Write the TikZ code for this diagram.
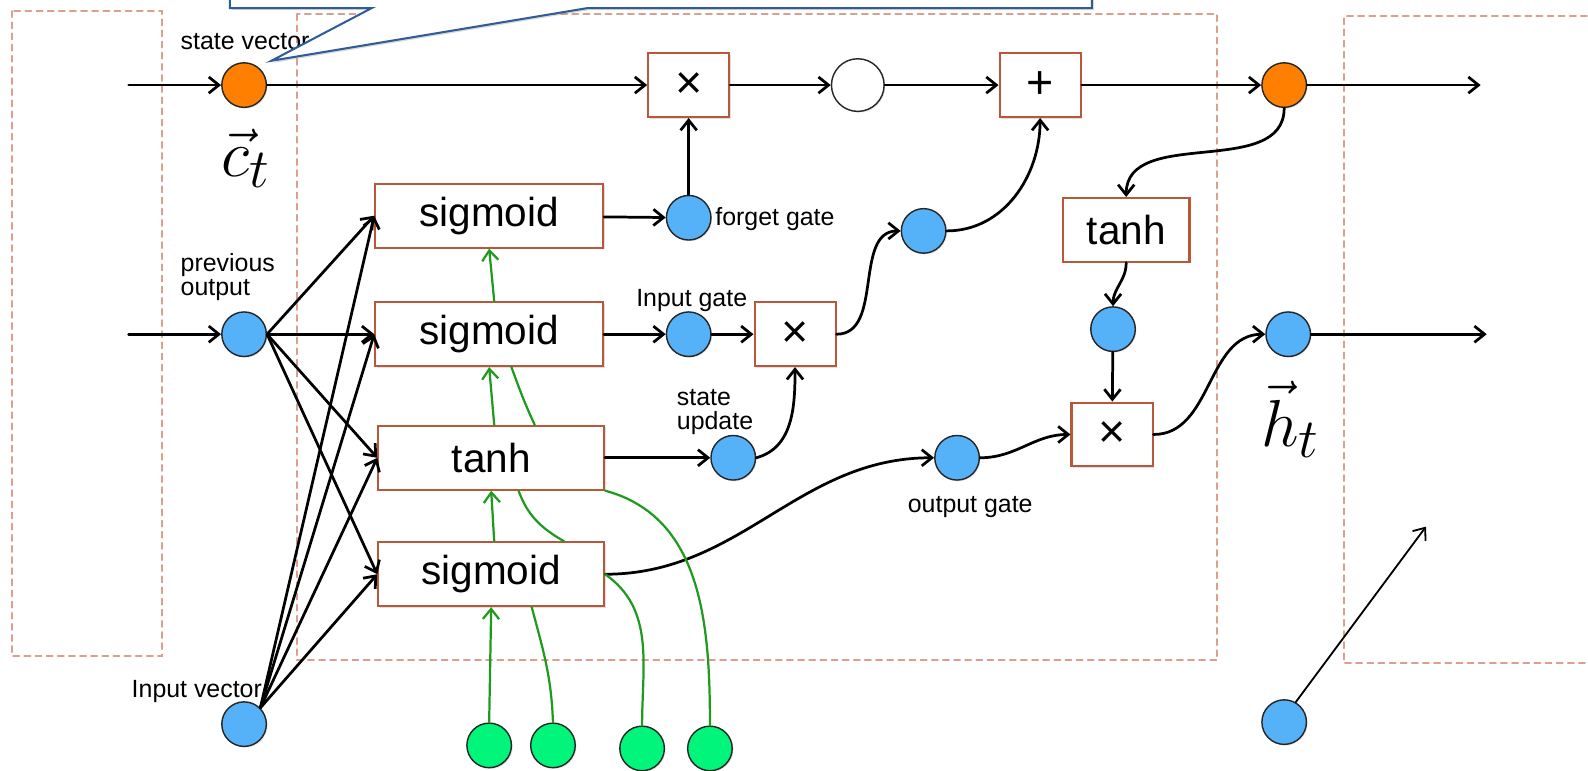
\documentclass[tikz,border=0pt]{standalone}
\usepackage[no-math]{fontspec}
\setmainfont{Liberation Sans}
\usepackage{tikz}
\usetikzlibrary{calc,arrows.meta,shadows}
\definecolor{naranja}{HTML}{FF8000}
\definecolor{celeste}{HTML}{55B2F8}
\definecolor{lima}{HTML}{00F57A}
\definecolor{verde}{HTML}{1E9A1E}
\definecolor{ladrillo}{HTML}{B8573A}
\definecolor{salmon}{HTML}{D9A08C}
\definecolor{azul}{HTML}{2E5C98}

\begin{document}
\begin{tikzpicture}[x=0.5pt,y=0.5pt,>={Straight Barb[length=5pt,width=8pt]},line cap=round,
  caja/.style={draw=ladrillo,line width=1pt,fill=white,minimum height=31.5pt,inner sep=0pt,
               font=\fontsize{20}{24}\selectfont,
               drop shadow={opacity=0.25,shadow xshift=0.8pt,shadow yshift=-0.8pt}},
  oper/.style={caja,minimum width=40pt,font=\fontsize{23}{24}\selectfont},
  bola/.style={circle,draw=black!85,line width=0.7pt,minimum size=22pt,inner sep=0pt,
               drop shadow={opacity=0.2,shadow xshift=0.6pt,shadow yshift=-0.6pt}},
  etiq/.style={font=\fontsize{12.3}{11.8}\selectfont,inner sep=0pt},
  vecs/.style={font=\fontsize{24.88}{30}\selectfont,inner sep=0pt},
  flecha/.style={->,line width=1.35pt},
  linverde/.style={draw=verde,line width=1.1pt},
  marco/.style={draw=salmon,dashed,dash pattern=on 3pt off 2.5pt,line width=0.9pt}]
  \useasboundingbox (0,0) rectangle (1568,-761);
  \clip (0,0) rectangle (1568,-761);
  % marcos punteados
  \draw[marco] (12,-11) rectangle (160,-648);
  \draw[marco] (293,-14) rectangle (1202,-652);
  \draw[marco] (1600,-16) -- (1327,-16) -- (1327,-655) -- (1600,-655);
  % compuertas
  \node[caja,minimum width=112.5pt] (sigF) at (483,-213) {sigmoid};
  \node[caja,minimum width=112.5pt] (sigI) at (483,-330) {sigmoid};
  \node[caja,minimum width=111.5pt] (tanhU) at (485,-452) {tanh};
  \node[caja,minimum width=111.5pt] (sigO) at (485,-567) {sigmoid};
  % operaciones
  \node[oper] (mulF) at (680,-84) {×};
  \node[oper] (suma) at (1027,-84) {+};
  \node[oper] (mulI) at (785,-330) {×};
  \node[oper] (mulO) at (1098,-429) {×};
  \node[caja,minimum width=62.5pt] (tanhC) at (1112,-227) {tanh};
  % vectores
  \node[bola,fill=naranja] (cIn) at (241,-84) {};
  \node[bola,fill=naranja] (cOut) at (1268,-84) {};
  \node[bola,fill=white,minimum size=26pt] (cMid) at (847,-84) {};
  \node[bola,fill=celeste] (hPrev) at (241,-330) {};
  \node[bola,fill=celeste] (xIn) at (241,-715) {};
  \node[bola,fill=celeste] (fG) at (680,-215) {};
  \node[bola,fill=celeste] (iG) at (680,-330) {};
  \node[bola,fill=celeste] (uS) at (724,-452) {};
  \node[bola,fill=celeste] (oG) at (945,-452) {};
  \node[bola,fill=celeste] (iU) at (912,-228) {};
  \node[bola,fill=celeste] (tC) at (1099,-325) {};
  \node[bola,fill=celeste] (hOut) at (1272,-330) {};
  \node[bola,fill=celeste] (hSig) at (1268,-713) {};
  \foreach \n/\x/\y in {1/483/736,2/546/736,3/634/739,4/701/739}
    \node[bola,fill=lima] (g\n) at (\x,-\y) {};
  % etiquetas
  \node[etiq,anchor=west] (lblEstado) at (178,-41) {state vector};
  \node[etiq,anchor=west,align=left] (lblPrev) at (178,-274) {previous\\output};
  \node[etiq,anchor=east] (lblEnt) at (259,-683) {Input vector};
  \node[etiq,anchor=west] (lblF) at (706,-216) {forget gate};
  \node[etiq] (lblI) at (683,-297) {Input gate};
  \node[etiq,anchor=west,align=left] (lblU) at (668,-407) {state\\update};
  \node[etiq] (lblO) at (958,-501) {output gate};
  \node[vecs] (vecC) at (243,-156) {\scalebox{1.32}{$\vec{c}_t$}};
  \node[vecs] (vecH) at (1274,-414) {\scalebox{1.32}{$\vec{h}_t$}};
  % estado de la celda
  \coordinate (eC) at (127,-84);
  \coordinate (sC) at (1462,-84);
  \draw[flecha] (eC) -- (cIn);
  \draw[flecha] (cIn) -- (mulF);
  \draw[flecha] (mulF) -- (cMid);
  \draw[flecha] (cMid) -- (suma);
  \draw[flecha] (suma) -- (cOut);
  \draw[flecha] (cOut) -- (sC);
  % abanico de entradas
  \coordinate (eH) at (127,-330);
  \draw[flecha] (eH) -- (hPrev);
  \foreach \b in {sigF,sigI,tanhU,sigO}{
    \draw[flecha] (hPrev.east) -- (\b.west);
    \draw[flecha] (xIn.45) -- (\b.west);
  }
  % salidas de las compuertas
  \draw[flecha] (sigF) -- (fG);
  \draw[flecha] (fG) -- (mulF);
  \draw[flecha] (sigI) -- (iG);
  \draw[flecha] (iG) -- (mulI);
  \draw[flecha] (tanhU) -- (uS);
  \draw[flecha] (uS.east) to[out=15,in=-90] (mulI.south);
  \draw[flecha] (mulI.east) to[out=0,in=180] (iU.west);
  \draw[flecha] (iU.east) to[out=0,in=-90] (suma.south);
  \draw[flecha] (sigO.east) to[out=0,in=180] (oG.west);
  \draw[flecha] (oG.east) to[out=0,in=180] (mulO.west);
  % salida h_t
  \draw[flecha] (cOut.south) to[out=-90,in=90] (tanhC.north);
  \draw[flecha] (tanhC.south) to[out=-90,in=90] (tC.north);
  \draw[flecha] (tC) -- (mulO);
  \draw[flecha] (mulO.east) to[out=0,in=180] (hOut.west);
  \coordinate (sH) at (1468,-330);
  \draw[flecha] (hOut) -- (sH);
  \coordinate (pS) at (1408,-520);
  \draw[->,line width=0.9pt] (hSig.60) -- (pS);
  % conexiones verdes
  \draw[linverde,->] (g1.north) -- (sigO.south);
  \draw[linverde,->] ($(sigO.north)+(3,0)$) -- (tanhU.south);
  \draw[linverde,->] ($(tanhU.north)+(3,0)$) -- (sigI.south);
  \draw[linverde,->] ($(sigI.north)+(5,0)$) -- (sigF.south);
  \draw[linverde] (g2.north) to[out=92,in=-75] ($(sigO.south)+(40,0)$);
  \draw[linverde] ($(sigO.north)+(72,0)$) to[out=150,in=-70] ($(tanhU.south)+(27,0)$);
  \draw[linverde] ($(tanhU.north)+(43,0)$) to[out=115,in=-70] ($(sigI.south)+(22,0)$);
  \draw[linverde] (g3.north) to[out=90,in=-35] (sigO.east);
  \draw[linverde] (g4.north) to[out=90,in=-15] (tanhU.south east);
  % globo
  \draw[azul,line width=1pt,fill=white,
        drop shadow={opacity=0.3,shadow xshift=1pt,shadow yshift=-1pt}]
    (227,30) -- (227,-8) -- (367,-8) -- (268,-60) -- (580,-8) -- (1078,-8) -- (1078,30) -- cycle;
\end{tikzpicture}
\end{document}
